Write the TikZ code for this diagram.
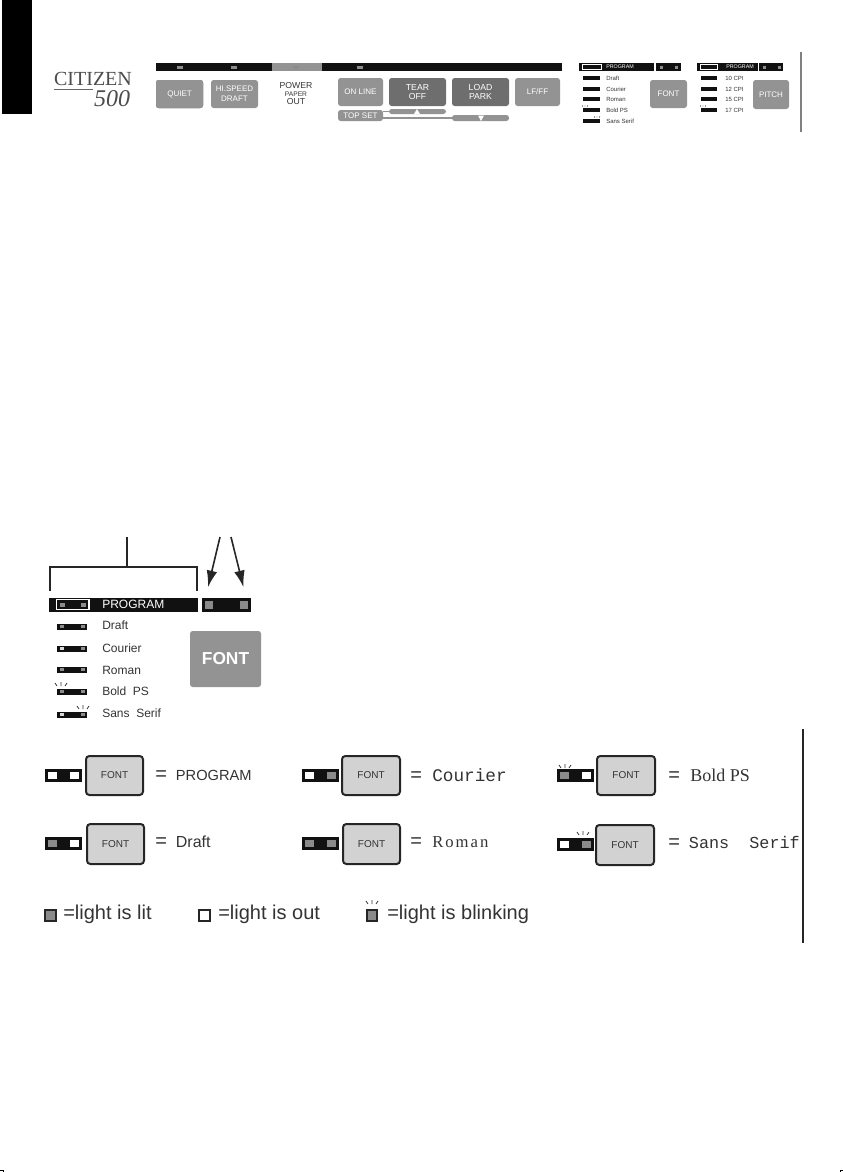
\documentclass[tikz,border=0pt]{standalone}
\usepackage{fontspec}
\setmainfont{Liberation Sans}
\newfontfamily\serifface{Liberation Serif}
\newfontfamily\monoface{Liberation Mono}
\usepackage{tikz}
\usetikzlibrary{arrows.meta, positioning, calc}
\definecolor{pblack}{HTML}{111111}
\definecolor{pgray}{HTML}{939393}
\definecolor{pdark}{HTML}{6E6E6E}
\definecolor{pled}{HTML}{8A8A8A}
\definecolor{plight}{HTML}{D2D2D2}
\definecolor{ptext}{HTML}{333333}
\tikzset{
  >=Latex,
  x=0.75pt, y=-0.75pt,
  key/.style={
    fill=#1, draw=none, rounded corners=2pt, text=white, align=center,
    inner sep=0pt, font=\fontsize{6}{6.5}\selectfont
  },
  key/.default=pgray,
  fontkey/.style={
    fill=plight, draw=black!85, line width=1.5pt, rounded corners=2.5pt,
    inner sep=0pt, text=ptext, font=\fontsize{7}{8}\selectfont
  },
  bar/.style={fill=pblack, draw=none, inner sep=0pt},
  led/.style={fill=#1, draw=none, inner sep=0pt},
  led/.default=pled,
  lab/.style={anchor=west, inner sep=0pt, text=ptext, font=\fontsize{#1}{#1}\selectfont},
  lab/.default=8,
  ray/.style={line width=0.6pt, draw=black!80},
  lead/.style={line width=1.5pt, draw=black!85},
  pointer/.style={line width=1.2pt, draw=black!85, -{Latex[length=12.5pt,width=8pt]}},
  rule/.style={line width=#1, draw=black!85},
  rule/.default=1pt
}
% box from corner to corner in pixels of the page
\newcommand{\pbox}[6][]{\node[#1, minimum width=((#4)-(#2))*0.75pt, minimum height=((#5)-(#3))*0.75pt] (#6) at ({((#2)+(#4))/2},{((#3)+(#5))/2}) {};}
% small light strip: name, left x, mid y, left and right light colours
\newcommand{\strip}[5]{%
  \pbox[bar]{#2}{#3-3}{#2+30}{#3+3}{#1}
  \pbox[led=#4]{#2+3}{#3-1.5}{#2+7}{#3+1.5}{#1l}
  \pbox[led=#5]{#2+24}{#3-1.5}{#2+28}{#3+1.5}{#1r}}
% indicator with two windows
\newcommand{\ind}[5]{%
  \pbox[bar]{#2}{#3-6.5}{#2+37}{#3+6.5}{#1}
  \pbox[led=#4]{#2+2.5}{#3-3.5}{#2+11.5}{#3+3.5}{#1l}
  \pbox[led=#5]{#2+24.5}{#3-3.5}{#2+33.5}{#3+3.5}{#1r}}
% three short rays over a light
\newcommand{\rays}[2]{%
  \draw[ray] (#1-4,#2-3) -- (#1-6,#2-6) (#1,#2-3) -- (#1,#2-7) (#1+4,#2-3) -- (#1+6,#2-6);}
\newcommand{\smallrays}[2]{%
  \draw[ray, line width=0.3pt] (#1-2,#2-1) -- (#1-3,#2-3) (#1,#2-1) -- (#1,#2-3) (#1+2,#2-1) -- (#1+3,#2-3);}
% equals sign with a fixed room after it
\newcommand{\eqsign}{\makebox[15.5pt][l]{\normalfont\fontsize{15}{15}\selectfont =}}
\begin{document}
\begin{tikzpicture}
  \useasboundingbox (0,0) rectangle (843,1172);
  \pbox[fill=black]{2}{0}{32}{114}{tab}
  % panel at the top
  \node[inner sep=0pt, text=black!70, font=\serifface\fontsize{15}{15}\selectfont] (brand) at (93,79) {CITIZEN};
  \node[inner sep=0pt, text=black!70, font=\serifface\itshape\fontsize{18}{18}\selectfont] (model) at (112,99) {500};
  \draw[line width=1.2pt, draw=black!60] (54,89.5) -- (93,89.5);
  \pbox[bar]{156}{63}{562}{71}{topbar}
  \pbox[fill=pgray]{272}{63}{322}{71}{topgray}
  \foreach \lx/\lname in {180/a,234/b,296/c,360/d}
    \pbox[led=black!45]{\lx-3}{65.5}{\lx+3}{68.5}{topled\lname}
  \pbox[key]{156}{80}{203}{108}{quiet}
  \node[text=white, inner sep=0pt, font=\fontsize{6}{6}\selectfont] (quiett) at (quiet) {QUIET};
  \pbox[key]{211}{80}{258}{108}{draftk}
  \node[text=white, inner sep=0pt, align=center, font=\fontsize{6}{7.5}\selectfont] (draftt) at (draftk) {HI.SPEED\\DRAFT};
  \node[inner sep=0pt, align=center, text=ptext, font=\fontsize{6.5}{6.5}\selectfont] (power) at (296,94) {POWER\\[-0.5pt]{\fontsize{5}{5}\selectfont PAPER}\\[-0.5pt]OUT};
  \pbox[key]{338}{78}{383}{106}{online}
  \node[text=white, inner sep=0pt, font=\fontsize{6}{6}\selectfont] (onlinet) at (online) {ON LINE};
  \pbox[key=pdark]{389}{78}{446}{106}{tear}
  \node[text=white, inner sep=0pt, align=center, font=\fontsize{6.5}{6.5}\selectfont] (teart) at (tear) {TEAR\\OFF};
  \pbox[key=pdark]{452}{78}{509}{106}{load}
  \node[text=white, inner sep=0pt, align=center, font=\fontsize{6.5}{6.5}\selectfont] (loadt) at (load) {LOAD\\PARK};
  \pbox[key]{515}{78}{560}{106}{lfff}
  \node[text=white, inner sep=0pt, font=\fontsize{6}{6}\selectfont] (lffft) at (lfff) {LF/FF};
  \pbox[key]{338}{110}{383}{121}{topset}
  \node[text=white, inner sep=0pt, font=\fontsize{6}{6}\selectfont] (topsett) at (topset) {TOP SET};
  \pbox[key]{389}{109}{446}{114}{tearb}
  \pbox[key]{452}{115}{509}{121}{loadb}
  \draw[pgray, line width=0.8pt] (topset.east |- tearb.west) -- (tearb.west);
  \draw[pgray, line width=0.8pt] (topset.east |- loadb.west) -- (loadb.west);
  \fill[white] (417,109) -- (414,114) -- (420,114) -- cycle;
  \fill[white] (481,121) -- (478,115.5) -- (484,115.5) -- cycle;
  % small FONT and PITCH groups
  \pbox[bar]{579}{63}{654}{71}{fprog}
  \pbox[bar]{656}{63}{681}{71}{fsel}
  \pbox[led=black!45]{660}{65.5}{663}{68.5}{fsela}
  \pbox[led=black!45]{675}{65.5}{678}{68.5}{fselb}
  \draw[white, line width=0.4pt] (582,64.5) rectangle (601,69.5);
  \node[text=white, inner sep=0pt, anchor=west, font=\fontsize{4}{4}\selectfont] (fprogt) at (606,67) {PROGRAM};
  \pbox[bar]{697}{63}{758}{71}{pprog}
  \pbox[bar]{759}{63}{783}{71}{psel}
  \pbox[led=black!45]{763}{65.5}{766}{68.5}{psela}
  \pbox[led=black!45]{778}{65.5}{781}{68.5}{pselb}
  \draw[white, line width=0.4pt] (700,64.5) rectangle (717,69.5);
  \node[text=white, inner sep=0pt, anchor=west, font=\fontsize{4}{4}\selectfont] (pprogt) at (726,67) {PROGRAM};
  \foreach \fy/\ftxt/\fname in {78/Draft/a,89/Courier/b,99/Roman/c,110/Bold PS/d,121/Sans Serif/e} {
    \pbox[bar]{583}{\fy-2}{600}{\fy+2}{fs\fname}
    \node[lab=4.5] (ft\fname) at (606,\fy) {\ftxt};
  }
  \foreach \fy/\ftxt/\fname in {78/10 CPI/a,89/12 CPI/b,99/15 CPI/c,110/17 CPI/d} {
    \pbox[bar]{701}{\fy-2}{717}{\fy+2}{ps\fname}
    \node[lab=4.5] (pt\fname) at (725,\fy) {\ftxt};
  }
  \smallrays{585}{108}
  \smallrays{597}{119}
  \smallrays{703}{108}
  \pbox[key]{650}{80}{687}{108}{fontsm}
  \node[text=white, inner sep=0pt, font=\fontsize{6}{6}\selectfont] (fontsmt) at (fontsm) {FONT};
  \pbox[key]{753}{80}{789}{109}{pitch}
  \node[text=white, inner sep=0pt, font=\fontsize{6}{6}\selectfont] (pitcht) at (pitch) {PITCH};
  \coordinate (ruleat) at (801,52);
  \coordinate (rulebt) at (801,132);
  \draw[rule=1pt, draw=black!50] (ruleat) -- (rulebt);
  % enlarged FONT group
  \coordinate (leadt) at (127,537);
  \coordinate (leadm) at (127,567);
  \coordinate (brl) at (49.5,591);
  \coordinate (brr) at (197,591);
  \draw[lead] (leadt) -- (leadm);
  \draw[lead] (brl) |- (brr |- leadm) -- (brr);
  \pbox[bar]{49}{598}{198}{612}{progbar}
  \pbox[bar]{202}{598}{251}{612}{selbar}
  \pbox[led]{205}{600.5}{213}{608.5}{sell}
  \pbox[led]{239.5}{600.5}{247.5}{608.5}{selr}
  \coordinate (arrl) at (220,537);
  \coordinate (arrr) at (231,537);
  \draw[pointer] (arrl) -- ($(sell.north)+(-1,-13)$);
  \draw[pointer] (arrr) -- ($(selr.north)+(0,-13)$);
  \pbox[draw=white, line width=0.8pt]{56.5}{599.5}{89}{609.5}{progbox}
  \pbox[led=black!45]{60}{603}{65}{607}{progl}
  \pbox[led=black!45]{81}{603}{86}{607}{progr}
  \node[lab=9, text=white] (progt) at (102,604.5) {PROGRAM};
  \strip{draftb}{57}{626.5}{black!45}{black!45}
  \strip{courb}{57}{648.5}{black!15}{black!45}
  \strip{romab}{57}{669.5}{black!45}{black!45}
  \strip{boldb}{57}{691.5}{black!45}{black!45}
  \strip{sansb}{57}{714.5}{black!15}{black!45}
  \node[lab=9] (draftt2) at (102,625.5) {Draft};
  \node[lab=9] (court2) at (102,648) {Courier};
  \node[lab=9] (romat2) at (102,670) {Roman};
  \node[lab=9] (boldt2) at (102,691) {Bold\ \ PS};
  \node[lab=9] (sanst2) at (102,713.5) {Sans\ \ Serif};
  \rays{61}{689}
  \rays{83}{712}
  \pbox[key]{190}{631}{261}{687}{fontbig}
  \node[text=white, inner sep=0pt, font=\bfseries\fontsize{13}{13}\selectfont] (fontbigt) at (fontbig) {FONT};
  % indicator table
  \ind{ia}{45}{775.5}{white}{white}
  \pbox[fontkey]{86}{756}{143}{795}{ka}
  \node[lab=11] at (155,775.5) (ta) {\eqsign PROGRAM};
  \ind{ib}{45}{843.5}{pled}{white}
  \pbox[fontkey]{87}{824}{144}{864}{kb}
  \node[lab=12] at (155,842) (tb) {\eqsign Draft};
  \ind{ic}{302}{775.5}{white}{pled}
  \pbox[fontkey]{342}{756}{400}{795}{kc}
  \node[lab=8.5, font=\monoface\fontsize{13.3}{13.3}\selectfont] at (410,775.5) (tc) {\makebox[16.5pt][l]{\normalfont\fontsize{15}{15}\selectfont =}Courier};
  \ind{id}{302}{843.5}{pled}{pled}
  \pbox[fontkey]{343}{824}{400}{864}{kd}
  \node[lab=8.5, font=\serifface\fontsize{12.5}{12.5}\selectfont] at (410,842) (td) {\makebox[16.5pt][l]{\normalfont\fontsize{15}{15}\selectfont =}R\kern1.5pt o\kern1.5pt m\kern1.5pt a\kern1.5pt n};
  \ind{ie}{557}{775.5}{pled}{white}
  \pbox[fontkey]{597}{756}{655}{795}{ke}
  \node[lab=8.5, font=\serifface\fontsize{13.5}{13.5}\selectfont] at (668,775) (te) {\makebox[16.5pt][l]{\normalfont\fontsize{15}{15}\selectfont =}Bold PS};
  \ind{if}{557}{844}{white}{pled}
  \pbox[fontkey]{596}{825}{654}{865}{kf}
  \node[lab=8.5, font=\monoface\fontsize{12.6}{12.6}\selectfont] at (668,842) (tf) {\eqsign Sans\ \ Serif};
  \foreach \kn in {a,b,c,d,e,f}
    \node[inner sep=0pt, text=ptext, font=\fontsize{7.5}{7.5}\selectfont] (kt\kn) at (k\kn) {FONT};
  \rays{565}{771}
  \rays{583}{838}
  \coordinate (ruleab) at (803,729);
  \coordinate (rulebb) at (803,943);
  \draw[rule=1.5pt] (ruleab) -- (rulebb);
  % legend
  \pbox[led, draw=black!85, line width=1.5pt]{45}{909.5}{56}{920.5}{lega}
  \node[lab=15] (legat) at (63,914) {=light is lit};
  \pbox[led=white, draw=black!85, line width=1.5pt]{198.5}{909.5}{209.5}{920.5}{legb}
  \node[lab=15] (legbt) at (218,914) {=light is out};
  \pbox[led, draw=black!85, line width=1.5pt]{367}{910}{377}{920.5}{legc}
  \node[lab=15] (legct) at (387,914) {=light is blinking};
  \rays{372}{907}
  % crop marks
  \draw[line width=0.5pt] (0,1170) -- (3,1170) -- (3,1172);
  \draw[line width=0.5pt] (843,1170) -- (840,1170) -- (840,1172);
\end{tikzpicture}
\end{document}
